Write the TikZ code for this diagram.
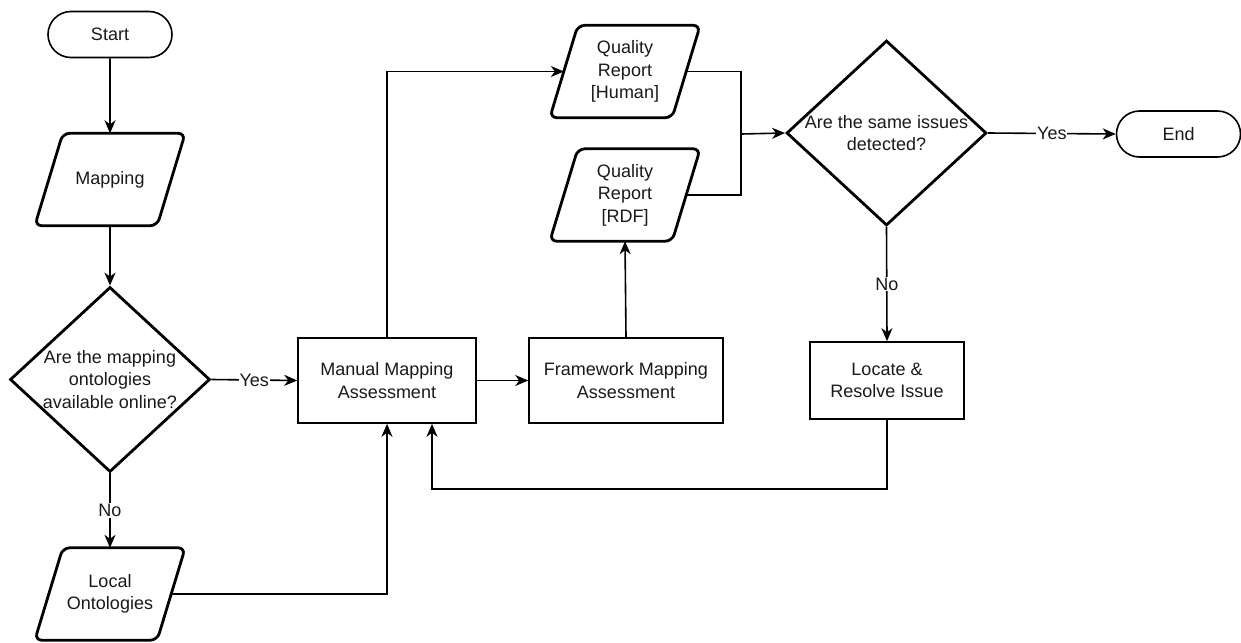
\documentclass[tikz,border=0pt]{standalone}
\usepackage{fontspec}
\setmainfont{Liberation Sans}
\usetikzlibrary{shapes.geometric,shapes.misc,arrows.meta}

\tikzset{
  base/.style={font=\fontsize{18}{22.5}\selectfont, align=center, text=black!90, inner sep=0pt},
  terminal/.style={base, rounded rectangle, draw, line width=1.6pt, minimum width=124pt, minimum height=46pt},
  process/.style={base, rectangle, draw, line width=1.6pt, minimum height=85pt},
  datastep/.style={base, rectangle, minimum width=150pt, minimum height=92pt},
  dataframe/.style={line width=2.8pt, rounded corners=7pt},
  decision/.style={diamond, draw, line width=2.8pt, minimum width=200pt, minimum height=185pt, inner sep=0pt},
  qtext/.style={base},
  conn/.style={line width=1.6pt, -{Stealth[length=13pt,width=11pt,inset=4pt]}},
  plain/.style={line width=1.6pt},
  lbl/.style={base, fill=white, inner sep=1pt}
}

% slanted outline of a data step, leaning to the right
\newcommand{\slantframe}[1]{%
  \draw[dataframe] ([xshift=28pt]#1.north west) -- (#1.north east)
    -- ([xshift=-28pt]#1.south east) -- (#1.south west) -- cycle;}

\begin{document}
\begin{tikzpicture}[x=1pt, y=-1pt]
\useasboundingbox (0,0) rectangle (1241,642);

% left column
\node[terminal] (start) at (110,34.5) {Start};
\node[datastep] (map) at (110,179.5) {Mapping};
\slantframe{map}
\node[decision] (dq1) at (110,379.5) {};
\node[qtext] (dq1t) at (110,379.5) {Are the mapping\\ontologies\\available online?};
\node[datastep] (local) at (110,594) {Local\\Ontologies};
\slantframe{local}

% assessment steps
\node[process, minimum width=178pt] (manual) at (387,380.5) {Manual Mapping\\Assessment};
\node[process, minimum width=194pt] (frame) at (626,380.5) {Framework Mapping\\Assessment};

% quality reports
\node[datastep] (human) at (625,71.5) {Quality\\Report\\{[Human]}};
\slantframe{human}
\node[datastep] (rdf) at (625,195) {Quality\\Report\\{[RDF]}};
\slantframe{rdf}

% comparison
\node[decision] (dq2) at (886.5,133) {};
\node[qtext] (dq2t) at (886.5,133) {Are the same issues\\detected?};
\node[terminal] (end) at (1178.5,134) {End};
\node[process, minimum width=154pt, minimum height=77pt] (fix) at (887,380.5) {Locate \&\\Resolve Issue};

% junction of the two reports
\coordinate (join) at (741,134);

% connectors
\draw[conn] (start) -- (map.north);
\draw[conn] (map.south) -- (dq1);
\draw[conn] (dq1.east) -- node[lbl] (yes1) {Yes} (manual.west);
\draw[conn] (dq1.south) -- node[lbl] (no1) {No} (local.north);
\draw[conn] ([xshift=-14pt]local.east) -| (manual.south);
\draw[conn] (manual.east) -- (frame.west);
\draw[conn] (manual.north) |- ([xshift=14pt]human.west);
\draw[conn] (frame.north) -- (rdf.south);
\draw[plain] ([xshift=-14pt]human.east) -| (join);
\draw[plain] ([xshift=-14pt]rdf.east) -| (join);
\draw[conn] (join) -- (dq2.west);
\draw[conn] (dq2.east) -- node[lbl] (yes2) {Yes} (end.west);
\draw[conn] (dq2.south) -- node[lbl] (no2) {No} (fix.north);
\draw[conn] (fix.south) -- ++(0,69) -| ([xshift=45pt]manual.south);
\end{tikzpicture}
\end{document}
